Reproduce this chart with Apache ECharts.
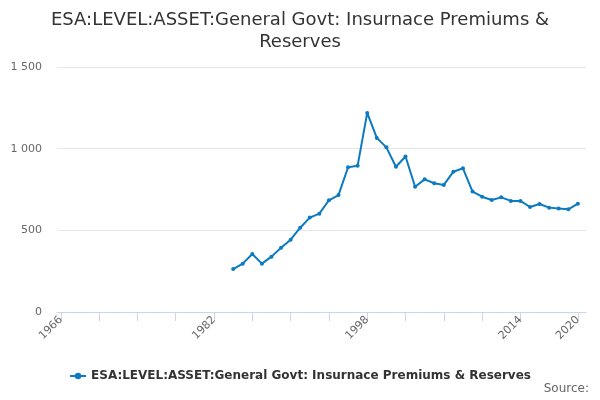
<!DOCTYPE html>
<html>
<head>
<meta charset="utf-8">
<script src="https://cdn.jsdelivr.net/npm/echarts@6/dist/echarts.min.js"></script>
<style>html,body{margin:0;padding:0;background:#fff}#c{width:600px;height:400px}</style>
</head>
<body>
<div id="c"></div>
<script>
var years = [1984,1985,1986,1987,1988,1989,1990,1991,1992,1993,1994,1995,1996,1997,1998,1999,2000,2001,2002,2003,2004,2005,2006,2007,2008,2009,2010,2011,2012,2013,2014,2015,2016,2017,2018,2019,2020];
var values = [263,296,355,296,339,394,443,516,578,602,684,716,886,896,1219,1066,1008,889,952,767,812,788,778,859,880,737,706,686,702,680,680,643,661,639,633,629,663];
var tickYears = [1966,1970,1974,1978,1982,1986,1990,1994,1998,2002,2006,2010,2014,2020];
var labelYears = [1966,1982,1998,2014,2020];
var yTicks = [0,500,1000,1500];
var seriesName = 'ESA:LEVEL:ASSET:General Govt: Insurnace Premiums & Reserves';
var titleLines = ['ESA:LEVEL:ASSET:General Govt: Insurnace Premiums &', 'Reserves'];

var data = years.map(function(y,i){return [y, values[i]];});
var chart = echarts.init(document.getElementById('c'));
var tStyle = {fontSize:18,fontWeight:'normal',color:'#333',fontFamily:'DejaVu Sans'};
chart.setOption({
  animation:false,
  textStyle:{fontFamily:'DejaVu Sans'},
  title:[{text:titleLines[0],left:'center',top:6,textStyle:tStyle},
         {text:titleLines[1],left:'center',top:28,textStyle:tStyle}],
  grid:{left:57,right:14,top:67,bottom:88,containLabel:false},
  legend:{left:'center',top:365,itemWidth:16,itemHeight:8,
    textStyle:{fontSize:12,fontWeight:'bold',color:'#333',fontFamily:'DejaVu Sans'},
    data:[seriesName]},
  graphic:[{type:'text',right:11,top:383,style:{text:'Source:',fontSize:12,fill:'#666',fontFamily:'DejaVu Sans'}}],
  xAxis:{type:'value',min:1965.6,max:2020.85,
    axisLine:{show:true,lineStyle:{color:'#ccd6eb'}},
    axisTick:{show:true,length:9,lineStyle:{color:'#ccd6eb'},customValues:tickYears},
    axisLabel:{rotate:45,fontSize:11,color:'#666',margin:6,customValues:labelYears,
      formatter:function(v){return String(v);}},
    splitLine:{show:false}},
  yAxis:{type:'value',min:yTicks[0],max:yTicks[yTicks.length-1],interval:500,
    axisLine:{show:false},axisTick:{show:false},
    axisLabel:{fontSize:11,color:'#666',margin:15,
      formatter:function(v){return String(v).replace(/\B(?=(\d{3})+(?!\d))/g,' ');}},
    splitLine:{lineStyle:{color:'#e6e6e6'}}},
  series:[{name:seriesName,type:'line',data:data,symbol:'circle',symbolSize:4,
    itemStyle:{color:'#0b7bc1'},lineStyle:{width:2,color:'#0b7bc1'}}]
});
</script>
</body>
</html>
